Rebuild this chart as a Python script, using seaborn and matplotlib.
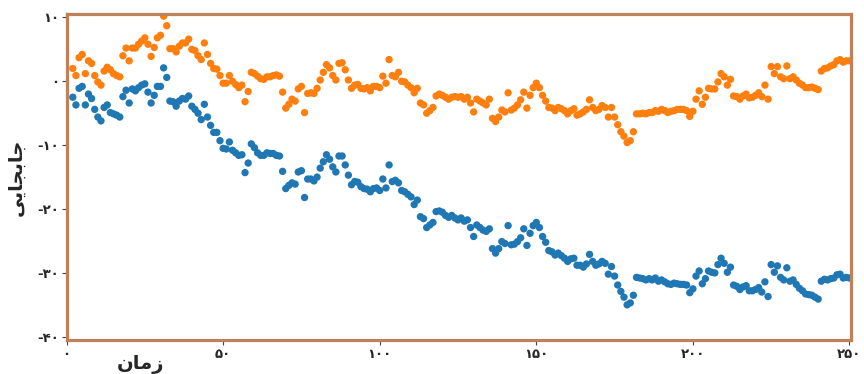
import numpy as np
import pandas as pd
import matplotlib
matplotlib.use("Agg")
import matplotlib.pyplot as plt
import seaborn as sns

# time steps and the two displacement series
steps = list(range(2, 251))

orange_walk = [
    2.0, 0.9, 3.7, 4.2, 1.2, 3.2, 2.8, 0.9, -0.1, -0.6,
    1.6, 2.2, 1.8, 1.2, 0.9, 0.7, 4.0, 5.2, 3.2, 5.2,
    5.2, 5.8, 6.3, 6.8, 5.8, 3.9, 5.3, 6.8, 7.2, 10.2,
    8.7, 5.1, 5.1, 4.6, 5.5, 6.0, 6.0, 6.6, 5.0, 4.8,
    4.0, 3.4, 6.0, 4.2, 2.8, 2.0, 1.9, 0.9, -0.3, -0.3,
    0.9, 0.0, -0.5, -1.0, -0.6, -3.2, -1.6, 1.4, 1.2, 0.8,
    0.4, 0.3, 0.7, 0.7, 0.9, 1.0, 0.8, -1.7, -4.2, -3.6,
    -2.8, -3.1, -1.2, -0.8, -4.9, -1.9, -1.8, -1.9, -1.1, 0.2,
    1.4, 2.6, 2.1, 0.9, 0.2, 2.8, 2.9, 1.8, 0.2, -1.1,
    -0.6, -0.5, -1.1, -1.2, -1.0, -1.5, -0.8, -0.8, -1.0, 0.8,
    -0.3, 3.4, 0.9, 0.7, 1.4, 0.0, -0.1, -0.6, -1.0, -1.8,
    -1.1, -3.4, -3.7, -5.0, -4.6, -4.1, -2.3, -2.0, -2.2, -2.5,
    -2.8, -2.5, -2.4, -2.5, -2.4, -2.8, -2.5, -3.4, -4.8, -2.8,
    -3.1, -3.4, -3.7, -2.8, -5.8, -6.3, -5.6, -4.5, -4.8, -1.8,
    -4.5, -4.2, -3.7, -2.9, -1.7, -4.2, -2.2, -1.0, -0.3, -1.0,
    -2.2, -3.1, -4.1, -4.2, -4.6, -4.1, -4.3, -4.6, -5.1, -4.6,
    -4.3, -5.3, -5.1, -4.8, -4.4, -2.9, -4.1, -4.6, -4.4, -3.8,
    -4.1, -5.6, -4.1, -5.6, -6.8, -7.9, -8.6, -9.6, -9.3, -7.9,
    -5.1, -5.1, -5.0, -5.1, -4.9, -4.9, -4.6, -4.7, -4.4, -4.6,
    -4.9, -4.7, -4.6, -4.4, -4.4, -4.4, -4.6, -5.5, -4.7, -2.8,
    -1.5, -3.6, -2.5, -1.1, -1.2, -1.2, -0.1, 1.2, 0.7, -0.6,
    0.3, -2.3, -2.4, -2.8, -2.3, -2.0, -2.6, -2.5, -2.2, -1.8,
    -2.4, -0.6, -2.8, 2.3, 1.2, 2.3, 0.7, 0.4, 2.4, 0.4,
    0.7, 0.2, -0.3, -0.6, -1.0, -1.0, -0.9, -1.1, -1.3, 1.6,
    2.0, 2.1, 2.4, 2.6, 3.2, 3.4, 3.0, 3.2, 3.2,
]

blue_walk = [
    -2.5, -3.7, -1.1, -0.8, -3.7, -2.0, -2.7, -4.4, -5.6, -6.2,
    -4.1, -3.7, -4.9, -5.1, -5.3, -5.6, -2.4, -1.4, -3.4, -1.2,
    -1.5, -1.0, -0.6, -0.4, -1.7, -3.4, -2.2, -0.8, -0.8, 2.1,
    0.6, -3.1, -3.2, -3.9, -3.1, -2.7, -2.8, -2.3, -3.9, -4.4,
    -5.0, -6.0, -3.6, -5.6, -6.9, -8.0, -8.0, -9.3, -10.5, -10.6,
    -9.5, -10.8, -11.2, -11.6, -11.5, -14.3, -12.8, -9.8, -10.4, -11.2,
    -11.6, -11.6, -11.2, -11.3, -11.3, -11.6, -11.7, -14.1, -16.8, -16.3,
    -15.9, -16.1, -14.2, -14.0, -18.2, -15.3, -15.3, -15.6, -15.0, -13.6,
    -12.6, -11.5, -12.2, -13.4, -14.2, -11.7, -11.7, -13.1, -14.7, -16.2,
    -15.7, -15.8, -16.5, -16.8, -16.9, -17.3, -16.8, -16.7, -17.1, -15.3,
    -16.7, -13.1, -15.7, -15.5, -15.9, -17.1, -17.3, -17.7, -18.1, -19.3,
    -18.6, -21.2, -21.5, -22.9, -22.5, -22.1, -20.4, -20.3, -20.5, -21.0,
    -21.3, -21.0, -21.4, -21.7, -21.4, -21.9, -21.7, -22.9, -24.3, -22.5,
    -22.9, -23.3, -23.5, -23.1, -26.2, -26.9, -26.2, -25.1, -25.4, -22.6,
    -25.6, -25.5, -25.1, -24.5, -23.1, -25.7, -23.8, -22.6, -22.1, -22.9,
    -24.3, -25.2, -26.5, -26.7, -27.2, -26.9, -27.3, -27.7, -28.2, -27.8,
    -27.7, -28.8, -28.8, -29.1, -28.6, -27.1, -28.2, -28.8, -28.6, -28.2,
    -28.5, -30.2, -29.0, -30.5, -31.9, -32.9, -33.8, -35.0, -34.7, -33.5,
    -30.7, -30.8, -30.9, -31.1, -30.9, -31.1, -30.8, -31.3, -31.1, -31.4,
    -31.7, -31.8, -31.6, -31.7, -31.8, -31.8, -31.9, -33.1, -32.5, -30.5,
    -29.7, -31.7, -30.9, -29.7, -29.9, -30.0, -28.7, -27.7, -28.5, -29.9,
    -29.1, -31.9, -32.1, -32.6, -32.2, -32.0, -32.8, -32.8, -32.6, -32.3,
    -33.0, -31.4, -33.7, -28.7, -29.9, -28.9, -30.7, -31.1, -29.2, -31.3,
    -31.1, -31.8, -32.4, -32.8, -33.3, -33.4, -33.5, -33.8, -34.1, -31.3,
    -31.0, -31.1, -30.9, -30.8, -30.3, -30.2, -30.8, -30.7, -30.8,
]

x_ticks = [0, 50, 100, 150, 200, 250]
y_ticks = [10, 0, -10, -20, -30, -40]

# Persian labels, written in shaped presentation forms in visual order
x_label = "\uFEE5\uFE8E\uFEE3\uFEAF"                       # زمان
y_label = "\uFEF0\uFEF3\uFE8E\uFEA0\uFE91\uFE8E\uFE9F"     # جابجایی

PERSIAN_DIGITS = str.maketrans("0123456789", "۰۱۲۳۴۵۶۷۸۹")


def fa(n):
    return str(n).translate(PERSIAN_DIGITS)


df = pd.DataFrame({
    "t": steps + steps,
    "value": blue_walk + orange_walk,
    "series": ["blue"] * len(steps) + ["orange"] * len(steps),
})

sns.set_theme(style="white")
plt.rcParams["font.family"] = ["DejaVu Sans"]

fig, ax = plt.subplots(figsize=(8.64, 3.74), dpi=100)
fig.subplots_adjust(left=0.077, right=0.985, top=0.962, bottom=0.091)

sns.scatterplot(
    data=df, x="t", y="value", hue="series",
    palette={"blue": "#1f77b4", "orange": "#ff7f0e"},
    s=28, linewidth=0, legend=False, ax=ax,
)

ax.set_xlim(0, 250.5)
ax.set_ylim(-40.5, 10.5)
ax.set_xticks(x_ticks)
ax.set_xticklabels([fa(v) for v in x_ticks], fontsize=9.5, fontweight="bold")
ax.set_yticks(y_ticks)
ax.set_yticklabels([fa(v) for v in y_ticks], fontsize=9.5, fontweight="bold")
ax.tick_params(axis="both", which="major", length=3.5, width=0.8,
               color="#444444", direction="out", bottom=True, left=True,
               pad=2)

for side in ["top", "bottom", "left", "right"]:
    ax.spines[side].set_visible(True)
    ax.spines[side].set_color("#c0805a")
    ax.spines[side].set_linewidth(2.3)

ax.set_xlabel(x_label, fontsize=14, fontweight="bold")
ax.xaxis.set_label_coords(0.094, -0.045)
ax.set_ylabel(y_label, fontsize=14, fontweight="bold", labelpad=8)

fig.savefig("out.png", dpi=100)
